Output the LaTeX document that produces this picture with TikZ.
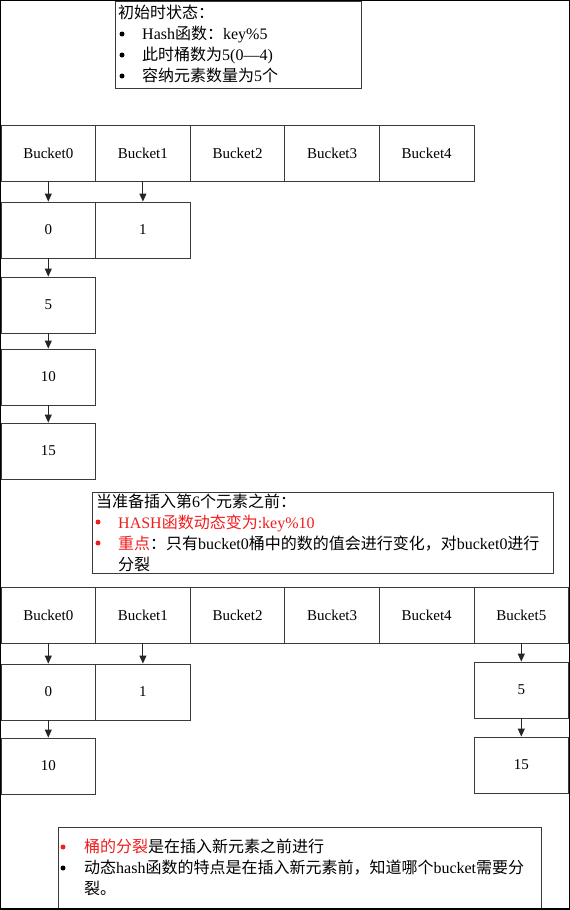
\documentclass[tikz,border=0pt]{standalone}
\usepackage{fontspec}
\setmainfont{Liberation Serif}
\newfontfamily\cjk{Noto Sans CJK SC}
\usetikzlibrary{arrows.meta}
\newcommand{\zh}[1]{{\cjk #1}}
\definecolor{rd}{HTML}{F01E1E}
\definecolor{ln}{HTML}{3A3A3A}
\begin{document}
\begin{tikzpicture}[x=1pt,y=-1pt,
  cell/.style={draw=ln,line width=0.9pt,fill=white,minimum width=94.6pt,minimum height=56pt,inner sep=0pt,font=\fontsize{15}{17}\selectfont},
  arr/.style={draw=black!85,line width=0.9pt,-{Triangle[width=7pt,length=8pt]}},
  tbox/.style={draw=ln,line width=1pt,inner sep=0pt,fill=white},
  txt/.style={anchor=base west,inner sep=0pt,font=\fontsize{16}{18}\selectfont},
  bul/.style={circle,fill=black,inner sep=0pt,minimum size=5pt},
]
\useasboundingbox (0,0) rectangle (570,910);
\fill[white] (0,0) rectangle (570,910);

% ---- note 1
\node[tbox,minimum width=246pt,minimum height=87pt] (note1) at (238,44.5) {};
\node[txt] (n1a) at (118,19) {\zh{初始时状态：}};
\node[bul] (n1b) at (122,34) {};
\node[txt] (n1bt) at (142,39.5) {Hash\zh{函数：}key\%5};
\node[bul] (n1c) at (122,55) {};
\node[txt] (n1ct) at (142,60.5) {\zh{此时桶数为}5(0—4)};
\node[bul] (n1d) at (122,76) {};
\node[txt] (n1dt) at (142,81.5) {\zh{容纳元素数量为}5\zh{个}};

% ---- first bucket row
\node[cell] (a0) at (48.3,153) {Bucket0};
\node[cell] (a1) at (142.9,153) {Bucket1};
\node[cell] (a2) at (237.5,153) {Bucket2};
\node[cell] (a3) at (332.1,153) {Bucket3};
\node[cell] (a4) at (426.7,153) {Bucket4};

\node[cell] (e0) at (48.3,230) {0};
\node[cell] (e1) at (142.9,230) {1};
\node[cell] (e5) at (48.3,305) {5};
\node[cell] (e10) at (48.3,377) {10};
\node[cell] (e15) at (48.3,451) {15};

\draw[arr] (a0) -- (e0);
\draw[arr] (a1) -- (e1);
\draw[arr] (e0) -- (e5);
\draw[arr] (e5) -- (e10);
\draw[arr] (e10) -- (e15);

% ---- note 2
\node[tbox,minimum width=461pt,minimum height=81pt] (note2) at (322.5,532.5) {};
\node[txt] (n2a) at (96,507) {\zh{当准备插入第}6\zh{个元素之前：}};
\node[bul,fill=rd] (n2b) at (98,522) {};
\node[txt,text=rd] (n2bt) at (118,528) {HASH\zh{函数动态变为}:key\%10};
\node[bul,fill=rd] (n2c) at (98,543) {};
\node[txt] (n2ct) at (118,549) {\textcolor{rd}{\zh{重点}}\zh{：只有}bucket0\zh{桶中的数的值会进行变化，对}bucket0\zh{进行}};
\node[txt] (n2d) at (118,570) {\zh{分裂}};

% ---- second bucket row
\node[cell] (b0) at (48.3,615) {Bucket0};
\node[cell] (b1) at (142.9,615) {Bucket1};
\node[cell] (b2) at (237.5,615) {Bucket2};
\node[cell] (b3) at (332.1,615) {Bucket3};
\node[cell] (b4) at (426.7,615) {Bucket4};
\node[cell] (b5) at (521.3,615) {Bucket5};

\node[cell] (f0) at (48.3,692) {0};
\node[cell] (f1) at (142.9,692) {1};
\node[cell] (f10) at (48.3,766) {10};
\node[cell] (g5) at (521.3,690) {5};
\node[cell] (g15) at (521.3,765) {15};

\draw[arr] (b0) -- (f0);
\draw[arr] (b1) -- (f1);
\draw[arr] (f0) -- (f10);
\draw[arr] (b5) -- (g5);
\draw[arr] (g5) -- (g15);

% ---- note 3
\node[tbox,minimum width=483pt,minimum height=81pt] (note3) at (299.5,867.5) {};
\node[bul,fill=rd] (n3a) at (63,847) {};
\node[txt] (n3at) at (84,852.5) {\textcolor{rd}{\zh{桶的分裂}}\zh{是在插入新元素之前进行}};
\node[bul] (n3b) at (63,868) {};
\node[txt] (n3bt) at (84,873.5) {\zh{动态}hash\zh{函数的特点是在插入新元素前，知道哪个}bucket\zh{需要分}};
\node[txt] (n3c) at (84,894) {\zh{裂。}};

% ---- outer frame
\draw[black,line width=1.2pt] (0.6,0.6) rectangle (569.4,908.6);
\draw[black,line width=2pt] (0,908.5) -- (570,908.5);
\end{tikzpicture}
\end{document}
